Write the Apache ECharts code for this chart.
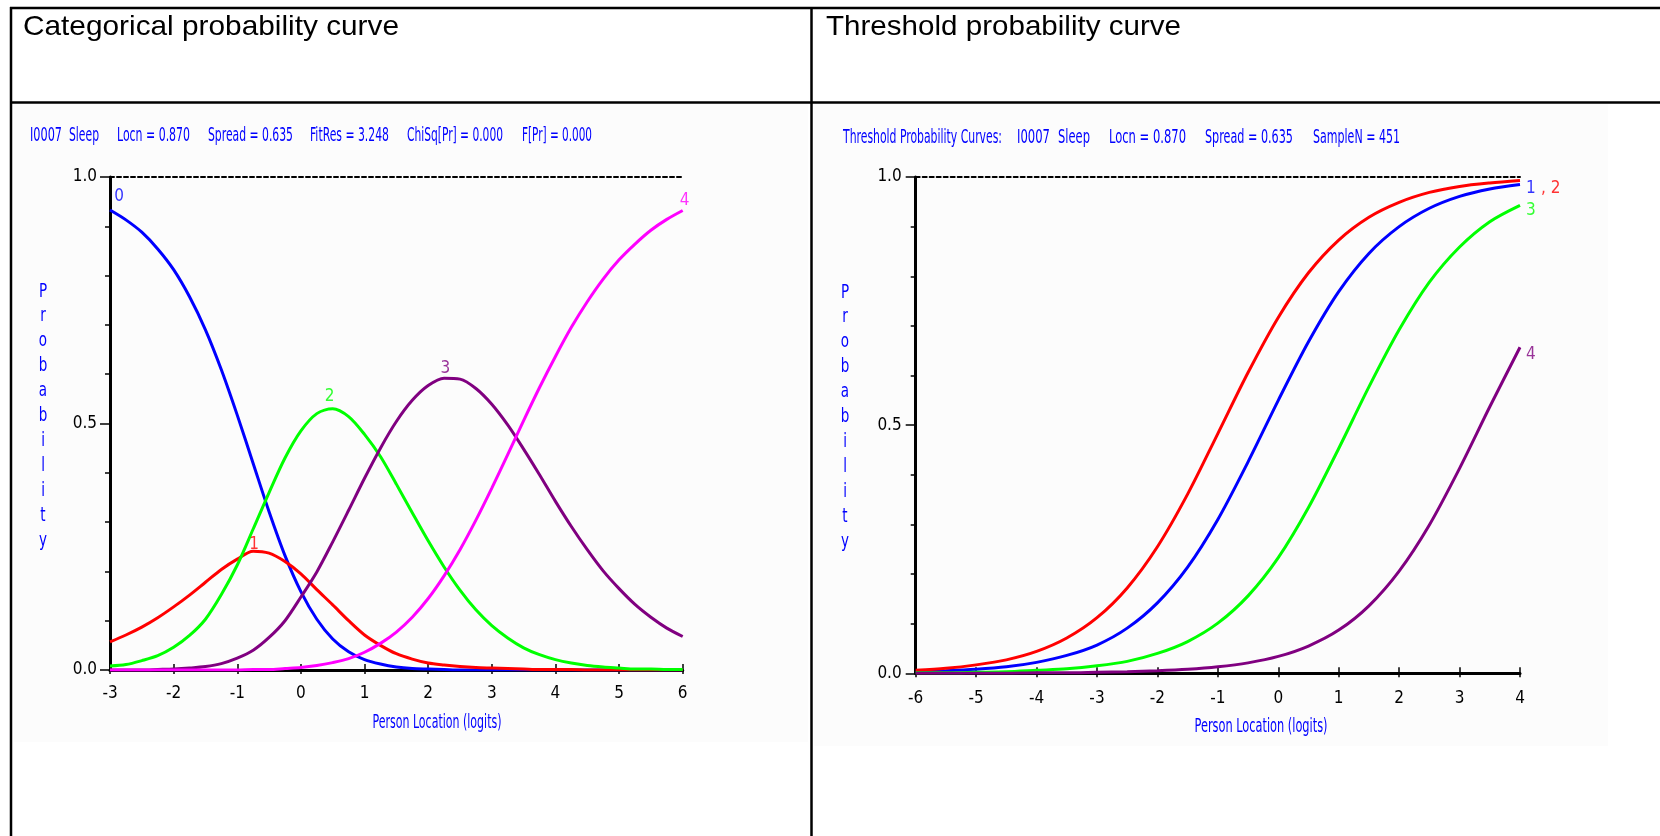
<!DOCTYPE html>
<html><head><meta charset="utf-8">
<script src="https://cdn.jsdelivr.net/npm/echarts@6.0.0/dist/echarts.min.js"></script>
<style>html,body{margin:0;padding:0;background:#fff;overflow:hidden}#c{width:1660px;height:836px}</style>
</head><body><div id="c"></div>
<script>
// ---------- data ----------
const catX = [-3,-2.75,-2.5,-2.25,-2,-1.75,-1.5,-1.25,-1,-0.75,-0.5,-0.25,0,0.25,0.5,0.75,1,1.25,1.5,1.75,2,2.25,2.5,2.75,3,3.25,3.5,3.75,4,4.25,4.5,4.75,5,5.25,5.5,5.75,6];
const cat0 = [0.933,0.913,0.888,0.854,0.812,0.757,0.690,0.609,0.517,0.419,0.321,0.232,0.159,0.103,0.063,0.037,0.021,0.012,0.006,0.003,0.002,0.001,0,0,0,0,0,0,0,0,0,0,0,0,0,0,0];
const cat1 = [0.057,0.071,0.087,0.106,0.128,0.152,0.178,0.204,0.225,0.241,0.237,0.220,0.195,0.163,0.132,0.100,0.071,0.050,0.033,0.022,0.014,0.010,0.007,0.005,0.004,0.003,0.002,0.001,0.001,0.001,0,0,0,0,0,0,0];
const cat2 = [0.008,0.011,0.019,0.029,0.046,0.070,0.103,0.153,0.213,0.286,0.360,0.430,0.485,0.520,0.530,0.514,0.478,0.433,0.377,0.319,0.262,0.209,0.162,0.122,0.090,0.065,0.045,0.031,0.021,0.014,0.009,0.006,0.004,0.002,0.002,0.001,0.001];
const cat3 = [0,0,0,0.001,0.002,0.004,0.007,0.013,0.024,0.040,0.066,0.100,0.148,0.199,0.260,0.324,0.389,0.450,0.504,0.547,0.577,0.592,0.590,0.571,0.539,0.497,0.448,0.396,0.342,0.291,0.244,0.201,0.165,0.133,0.107,0.085,0.068];
const cat4 = [0,0,0,0,0,0,0,0,0,0.001,0.001,0.003,0.005,0.009,0.015,0.023,0.036,0.054,0.077,0.107,0.145,0.191,0.244,0.304,0.369,0.437,0.506,0.573,0.636,0.695,0.747,0.793,0.832,0.864,0.892,0.914,0.932];
const catLabelText = ['0','1','2','3','4'];
const catLabelX = [-3,-0.72,0.45,2.3,6];
const catLabelY = [0.933,0.243,0.530,0.593,0.932];

const thrX = [-6,-5.5,-5,-4.5,-4,-3.5,-3,-2.5,-2,-1.5,-1,-0.5,0,0.5,1,1.5,2,2.5,3,3.5,4];
const thr1 = [0.003,0.005,0.008,0.013,0.022,0.036,0.057,0.091,0.142,0.214,0.310,0.426,0.550,0.668,0.769,0.846,0.900,0.937,0.961,0.976,0.985];
const thr2 = [0.006,0.010,0.017,0.027,0.044,0.071,0.112,0.172,0.255,0.361,0.483,0.606,0.717,0.807,0.873,0.919,0.949,0.969,0.981,0.988,0.993];
const thr3 = [0.001,0.001,0.002,0.003,0.006,0.009,0.015,0.024,0.040,0.064,0.101,0.156,0.233,0.334,0.453,0.577,0.692,0.788,0.859,0.910,0.943];
const thr4 = [0.000,0.000,0.000,0.000,0.001,0.001,0.002,0.003,0.005,0.008,0.013,0.021,0.034,0.055,0.087,0.136,0.206,0.299,0.413,0.537,0.657];
const thrLabelText = ['1',', 2','3','4'];
const thrLabelX = [4,4,4,4];
const thrLabelY = [0.985,0.993,0.943,0.657];

const catAxis = {min:-3, max:6, step:1};
const thrAxis = {min:-6, max:4, step:1};
const probAxis = {min:0, max:1, step:0.5};

const headerLeft = 'Categorical probability curve';
const headerRight = 'Threshold probability curve';
const titleLeftTokens = ['I0007','Sleep','Locn = 0.870','Spread = 0.635','FitRes = 3.248','ChiSq[Pr] = 0.000','F[Pr] = 0.000'];
const titleRightTokens = ['Threshold Probability Curves:','I0007','Sleep','Locn = 0.870','Spread = 0.635','SampleN = 451'];
const yName = 'Probability';
const xName = 'Person Location (logits)';

// ---------- fonts ----------
const ctx = document.createElement('canvas').getContext('2d');
function pickFont(list, fallback){
  const s='abcdefghijklmnopqrstuvwxyz0123456789ABC';
  ctx.font='40px monospace'; const b1=ctx.measureText(s).width;
  ctx.font='40px serif'; const b2=ctx.measureText(s).width;
  for(const f of list){
    ctx.font='40px "'+f+'", monospace'; const w1=ctx.measureText(s).width;
    ctx.font='40px "'+f+'", serif'; const w2=ctx.measureText(s).width;
    if(w1!==b1 || w2!==b2) return f;
  }
  return fallback;
}
const NARROW = pickFont(['Liberation Sans Narrow','Arial Narrow','DejaVu Sans Condensed'],'Liberation Sans');
const SANS = pickFont(['Liberation Sans','Arial'],'sans-serif');
function measure(text, size, fam){ ctx.font = size+'px "'+fam+'"'; return ctx.measureText(text).width; }

const BLUE='#0000ff', RED='#ff0000', GREEN='#00ff00', PURPLE='#800080', MAGENTA='#ff00ff';

// ---------- layout ----------
const G1 = {left:110, top:177, width:572.7, height:493};
const G2 = {left:915.7, top:177, width:604.3, height:496.3};

const graphics = [];
graphics.push({type:'rect', z:-10, shape:{x:14,y:104,width:794,height:638}, style:{fill:'#fcfcfc'}});
graphics.push({type:'rect', z:-10, shape:{x:814,y:104,width:794,height:642}, style:{fill:'#fcfcfc'}});
const lineStyle = {stroke:'#000', lineWidth:2.5};
graphics.push({type:'line', shape:{x1:10,y1:8,x2:1660,y2:8}, style:lineStyle});
graphics.push({type:'line', shape:{x1:10,y1:102.5,x2:1660,y2:102.5}, style:lineStyle});
graphics.push({type:'line', shape:{x1:11,y1:7,x2:11,y2:836}, style:lineStyle});
graphics.push({type:'line', shape:{x1:811.5,y1:7,x2:811.5,y2:836}, style:lineStyle});

function fitText(text, x, y, targetW, fam, size, color, scaleY, align){
  const w = measure(text, size, fam);
  graphics.push({type:'text', x:x, y:y, scaleX: targetW/w, scaleY: scaleY||1,
    style:{text:text, x:0, y:0, fill:color, font: size+'px "'+fam+'"', textVerticalAlign:'middle', textAlign:align||'left'}});
}
// headers
fitText(headerLeft, 23, 27, 376, SANS, 28, '#000');
fitText(headerRight, 826, 27, 355, SANS, 28, '#000');

// blue chart titles: [start x, width]
const titleLeftPos = [[30,32],[69,30],[117,73],[208,85],[310,79],[407,96],[522,70]];
const titleRightPos = [[843,159],[1017,33],[1058,32],[1109,77],[1205,88],[1313,87]];
titleLeftTokens.forEach((t,i)=>fitText(t, titleLeftPos[i][0], 136.5, titleLeftPos[i][1], NARROW, 16, BLUE, 1.2));
titleRightTokens.forEach((t,i)=>fitText(t, titleRightPos[i][0], 138, titleRightPos[i][1], NARROW, 16, BLUE, 1.2));

// y-axis names (stacked letters)
function stacked(x, top){
  graphics.push({type:'text', x:x, y:top, scaleY:1.3, style:{text:yName.split('').join('\n'), x:0, y:0, fill:BLUE, font:'15px "'+NARROW+'"', lineHeight:19.2, textAlign:'center', textVerticalAlign:'top'}});
}
stacked(43, 279);
stacked(845, 280);
// x-axis names
fitText(xName, 437, 723, 129, NARROW, 16, BLUE, 1.25, 'center');
fitText(xName, 1261, 727, 133, NARROW, 16, BLUE, 1.25, 'center');

// ---------- axes ----------
function mainX(gi, ax, margin){
  return {gridIndex:gi, type:'value', min:ax.min, max:ax.max, interval:ax.step, position:'bottom',
    axisLine:{show:true,onZero:false,lineStyle:{color:'#000',width:3}},
    axisTick:{show:true,inside:true,length:6,lineStyle:{color:'#000',width:1.5}},
    axisLabel:{color:'#000',fontFamily:NARROW,fontSize:17,margin:margin},
    splitLine:{show:false}};
}
function topX(gi, ax){
  return {gridIndex:gi, type:'value', min:ax.min, max:ax.max, interval:ax.step, position:'top',
    axisLine:{show:true,onZero:false,lineStyle:{color:'#000',width:2,type:[4,3]}},
    axisTick:{show:false}, axisLabel:{show:false}, splitLine:{show:false}};
}
function tickX(gi, ax){
  return {gridIndex:gi, type:'value', min:ax.min, max:ax.max, interval:ax.step, position:'bottom',
    axisLine:{show:false}, axisTick:{show:true,inside:false,length:4,lineStyle:{color:'#000',width:1.5}},
    axisLabel:{show:false}, splitLine:{show:false}};
}
function mainY(gi, margin){
  return {gridIndex:gi, type:'value', min:probAxis.min, max:probAxis.max, interval:probAxis.step,
    axisLine:{show:true,onZero:false,lineStyle:{color:'#000',width:3}},
    axisTick:{show:true,length:10,lineStyle:{color:'#000',width:1.5}},
    minorTick:{show:true,splitNumber:5,length:5,lineStyle:{color:'#000',width:1.5}},
    axisLabel:{color:'#000',fontFamily:NARROW,fontSize:17,margin:margin,formatter:v=>v.toFixed(1)},
    splitLine:{show:false}, minorSplitLine:{show:false}};
}

// ---------- series ----------
function curve(xs, ys, color, xi, yi){
  return {type:'line', xAxisIndex:xi, yAxisIndex:yi, data:xs.map((x,i)=>[x,ys[i]]),
    smooth:0.3, showSymbol:false, symbol:'none', lineStyle:{color:color,width:3}, itemStyle:{color:color}, silent:true};
}
function labels(xs, ys, texts, colors, opts, xi, yi){
  return {type:'scatter', xAxisIndex:xi, yAxisIndex:yi, symbolSize:0, silent:true, z:5,
    data:xs.map((x,i)=>({value:[x,ys[i]], label:Object.assign({show:true, formatter:texts[i], color:colors[i], fontFamily:NARROW, fontSize:17}, opts[i])}))};
}
const catColors = [BLUE,RED,GREEN,PURPLE,MAGENTA];
const catLabelOpts = [
  {position:'top', distance:5, offset:[9,0]},
  {position:'top', distance:0, offset:[-1,3]},
  {position:'top', distance:4, offset:[0,0]},
  {position:'top', distance:1, offset:[-2,0]},
  {position:'top', distance:1, offset:[2,0]}
];
const thrColors = [BLUE,RED,GREEN,PURPLE];
const thrLabelOpts = [
  {position:'right', distance:6, offset:[0,4]},
  {position:'right', distance:21, offset:[0,8]},
  {position:'right', distance:6, offset:[0,5]},
  {position:'right', distance:6, offset:[0,7]}
];

const series = [
  curve(catX,cat0,BLUE,0,0), curve(catX,cat1,RED,0,0), curve(catX,cat2,GREEN,0,0), curve(catX,cat3,PURPLE,0,0), curve(catX,cat4,MAGENTA,0,0),
  labels(catLabelX,catLabelY,catLabelText,catColors,catLabelOpts,0,0),
  curve(thrX,thr1,BLUE,3,1), curve(thrX,thr2,RED,3,1), curve(thrX,thr3,GREEN,3,1), curve(thrX,thr4,PURPLE,3,1),
  labels(thrLabelX,thrLabelY,thrLabelText,thrColors,thrLabelOpts,3,1)
];

const chart = echarts.init(document.getElementById('c'), null, {renderer:'canvas'});
chart.setOption({
  animation:false,
  backgroundColor:'#ffffff',
  grid:[G1, G2],
  xAxis:[mainX(0,catAxis,15), topX(0,catAxis), tickX(0,catAxis), mainX(1,thrAxis,17), topX(1,thrAxis), tickX(1,thrAxis)],
  yAxis:[mainY(0,13), mainY(1,14)],
  series:series,
  graphic:graphics
});
</script>
</body></html>
